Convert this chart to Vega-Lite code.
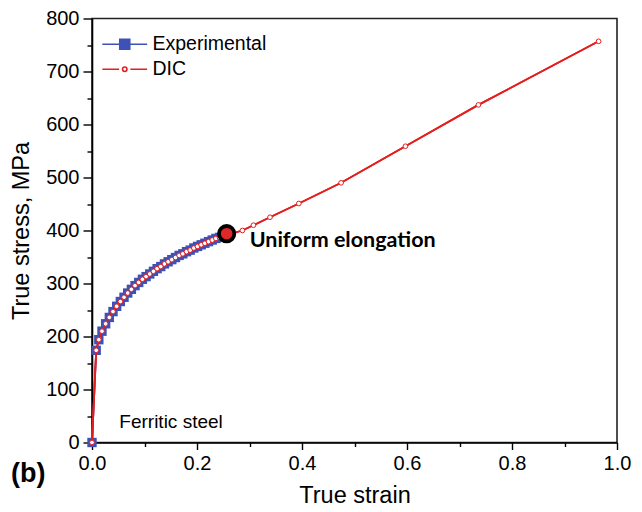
{
  "$schema": "https://vega.github.io/schema/vega-lite/v6.json",
  "width": 525,
  "height": 424,
  "autosize": "none",
  "padding": {"left": 92, "top": 18.5, "right": 25, "bottom": 69.5},
  "background": "white",
  "config": {
    "font": "Liberation Sans",
    "view": {"stroke": "#222222", "strokeWidth": 1.6},
    "axis": {"grid": false, "domainColor": "black", "domainWidth": 1.6, "tickColor": "black", "tickWidth": 1.4, "labelColor": "black", "titleColor": "black", "labelFontSize": 20, "titleFontSize": 23.5, "titleFontWeight": "normal", "labelFont": "Liberation Sans", "titleFont": "Liberation Sans", "labelFlush": false, "labelOverlap": false}
  },
  "title": {"text": "(b)", "orient": "bottom", "anchor": "start", "frame": "group", "fontSize": 27, "fontWeight": "bold", "font": "Liberation Sans", "color": "black", "dx": -81, "dy": -50},
  "datasets": {
    "curves": [
      {"series": "Experimental", "strain": 0.0, "stress": 0},
      {"series": "Experimental", "strain": 0.008, "stress": 174},
      {"series": "Experimental", "strain": 0.013, "stress": 194},
      {"series": "Experimental", "strain": 0.019, "stress": 210},
      {"series": "Experimental", "strain": 0.026, "stress": 224},
      {"series": "Experimental", "strain": 0.033, "stress": 236},
      {"series": "Experimental", "strain": 0.040, "stress": 247},
      {"series": "Experimental", "strain": 0.047, "stress": 257},
      {"series": "Experimental", "strain": 0.054, "stress": 266},
      {"series": "Experimental", "strain": 0.061, "stress": 274},
      {"series": "Experimental", "strain": 0.068, "stress": 282},
      {"series": "Experimental", "strain": 0.075, "stress": 289},
      {"series": "Experimental", "strain": 0.082, "stress": 296},
      {"series": "Experimental", "strain": 0.089, "stress": 302},
      {"series": "Experimental", "strain": 0.096, "stress": 308},
      {"series": "Experimental", "strain": 0.103, "stress": 313},
      {"series": "Experimental", "strain": 0.110, "stress": 318},
      {"series": "Experimental", "strain": 0.117, "stress": 323},
      {"series": "Experimental", "strain": 0.124, "stress": 328},
      {"series": "Experimental", "strain": 0.131, "stress": 332},
      {"series": "Experimental", "strain": 0.138, "stress": 337},
      {"series": "Experimental", "strain": 0.145, "stress": 341},
      {"series": "Experimental", "strain": 0.152, "stress": 345},
      {"series": "Experimental", "strain": 0.159, "stress": 349},
      {"series": "Experimental", "strain": 0.166, "stress": 353},
      {"series": "Experimental", "strain": 0.173, "stress": 356},
      {"series": "Experimental", "strain": 0.180, "stress": 360},
      {"series": "Experimental", "strain": 0.187, "stress": 363},
      {"series": "Experimental", "strain": 0.194, "stress": 367},
      {"series": "Experimental", "strain": 0.201, "stress": 370},
      {"series": "Experimental", "strain": 0.208, "stress": 373},
      {"series": "Experimental", "strain": 0.215, "stress": 376},
      {"series": "Experimental", "strain": 0.222, "stress": 379},
      {"series": "Experimental", "strain": 0.229, "stress": 382},
      {"series": "Experimental", "strain": 0.236, "stress": 385},
      {"series": "Experimental", "strain": 0.243, "stress": 387},
      {"series": "Experimental", "strain": 0.250, "stress": 390},
      {"series": "DIC", "strain": 0.0, "stress": 0},
      {"series": "DIC", "strain": 0.008, "stress": 174},
      {"series": "DIC", "strain": 0.013, "stress": 194},
      {"series": "DIC", "strain": 0.019, "stress": 210},
      {"series": "DIC", "strain": 0.026, "stress": 224},
      {"series": "DIC", "strain": 0.033, "stress": 236},
      {"series": "DIC", "strain": 0.040, "stress": 247},
      {"series": "DIC", "strain": 0.047, "stress": 257},
      {"series": "DIC", "strain": 0.054, "stress": 266},
      {"series": "DIC", "strain": 0.061, "stress": 274},
      {"series": "DIC", "strain": 0.068, "stress": 282},
      {"series": "DIC", "strain": 0.075, "stress": 289},
      {"series": "DIC", "strain": 0.082, "stress": 296},
      {"series": "DIC", "strain": 0.089, "stress": 302},
      {"series": "DIC", "strain": 0.096, "stress": 308},
      {"series": "DIC", "strain": 0.103, "stress": 313},
      {"series": "DIC", "strain": 0.110, "stress": 318},
      {"series": "DIC", "strain": 0.117, "stress": 323},
      {"series": "DIC", "strain": 0.124, "stress": 328},
      {"series": "DIC", "strain": 0.131, "stress": 332},
      {"series": "DIC", "strain": 0.138, "stress": 337},
      {"series": "DIC", "strain": 0.145, "stress": 341},
      {"series": "DIC", "strain": 0.152, "stress": 345},
      {"series": "DIC", "strain": 0.159, "stress": 349},
      {"series": "DIC", "strain": 0.166, "stress": 353},
      {"series": "DIC", "strain": 0.173, "stress": 356},
      {"series": "DIC", "strain": 0.180, "stress": 360},
      {"series": "DIC", "strain": 0.187, "stress": 363},
      {"series": "DIC", "strain": 0.194, "stress": 367},
      {"series": "DIC", "strain": 0.201, "stress": 370},
      {"series": "DIC", "strain": 0.208, "stress": 373},
      {"series": "DIC", "strain": 0.215, "stress": 376},
      {"series": "DIC", "strain": 0.222, "stress": 379},
      {"series": "DIC", "strain": 0.229, "stress": 382},
      {"series": "DIC", "strain": 0.236, "stress": 385},
      {"series": "DIC", "strain": 0.243, "stress": 387},
      {"series": "DIC", "strain": 0.250, "stress": 390},
      {"series": "DIC", "strain": 0.2865, "stress": 400},
      {"series": "DIC", "strain": 0.3075, "stress": 410},
      {"series": "DIC", "strain": 0.339, "stress": 425},
      {"series": "DIC", "strain": 0.394, "stress": 451},
      {"series": "DIC", "strain": 0.4745, "stress": 490},
      {"series": "DIC", "strain": 0.597, "stress": 559},
      {"series": "DIC", "strain": 0.736, "stress": 637},
      {"series": "DIC", "strain": 0.965, "stress": 757}
    ],
    "uniform": [{"strain": 0.2565, "stress": 394, "label": "Uniform elongation"}],
    "material": [{"strain": 0.052, "stress": 39, "label": "Ferritic steel"}]
  },
  "resolve": {"axis": {"x": "independent", "y": "independent"}},
  "layer": [
    {
      "data": {"name": "curves"},
      "mark": {"type": "line", "strokeWidth": 1.8},
      "encoding": {
        "x": {"field": "strain", "type": "quantitative", "scale": {"domain": [0, 1], "nice": false, "zero": false},
              "axis": {"values": [0, 0.2, 0.4, 0.6, 0.8, 1.0], "format": ".1f", "tickSize": 7, "labelPadding": 4, "title": "True strain", "titlePadding": 10, "orient": "bottom"}},
        "y": {"field": "stress", "type": "quantitative", "scale": {"domain": [0, 800], "nice": false, "zero": false},
              "axis": {"values": [0, 100, 200, 300, 400, 500, 600, 700, 800], "tickSize": 9, "labelPadding": 4, "title": "True stress, MPa", "titlePadding": 12, "orient": "left"}},
        "color": {"field": "series", "type": "nominal",
                  "scale": {"domain": ["Experimental", "DIC"], "range": ["#3f51b5", "#e41f1f"]},
                  "legend": {"orient": "none", "legendX": 23, "legendY": 16, "title": null, "padding": 0,
                             "labelFontSize": 19.5, "labelFont": "Liberation Sans", "labelColor": "black", "labelOffset": 18,
                             "symbolSize": 64, "rowPadding": 4,
                             "encode": {"symbols": {"update": {
                               "shape": {"signal": "datum.value === 'Experimental' ? 'M-5.6,0H-1.25M1.25,0H5.6M-1.25,-1.25H1.25V1.25H-1.25Z' : 'M-5.6,0H-1.4M1.4,0H5.6M-0.55,0A0.55,0.55,0,1,0,0.55,0A0.55,0.55,0,1,0,-0.55,0Z'"},
                               "fill": {"signal": "datum.value === 'Experimental' ? '#3f51b5' : '#ffffff'"},
                               "stroke": {"signal": "datum.value === 'Experimental' ? '#3f51b5' : '#e41f1f'"},
                               "strokeWidth": {"value": 1.6},
                               "opacity": {"value": 1}
                             }}}}},
        "order": {"field": "strain", "type": "quantitative"}
      }
    },
    {
      "data": {"name": "curves"},
      "transform": [{"filter": "datum.series === 'Experimental'"}],
      "mark": {"type": "point", "shape": "square", "filled": true, "size": 88, "color": "#3f51b5", "opacity": 1},
      "encoding": {
        "x": {"field": "strain", "type": "quantitative", "axis": null},
        "y": {"field": "stress", "type": "quantitative", "axis": null}
      }
    },
    {
      "data": {"name": "curves"},
      "transform": [{"filter": "datum.series === 'DIC'"}],
      "mark": {"type": "line", "strokeWidth": 1.8, "color": "#e41f1f"},
      "encoding": {
        "x": {"field": "strain", "type": "quantitative", "axis": null},
        "y": {"field": "stress", "type": "quantitative", "axis": null}
      }
    },
    {
      "data": {"name": "curves"},
      "transform": [{"filter": "datum.series === 'DIC'"}],
      "mark": {"type": "point", "shape": "circle", "filled": false, "size": 22, "stroke": "#e41f1f", "fill": "white", "fillOpacity": 1, "strokeWidth": 1, "opacity": 1},
      "encoding": {
        "x": {"field": "strain", "type": "quantitative", "axis": null},
        "y": {"field": "stress", "type": "quantitative", "axis": null}
      }
    },
    {
      "data": {"name": "uniform"},
      "mark": {"type": "point", "shape": "circle", "filled": true, "size": 235, "fill": "#e02828", "stroke": "black", "strokeWidth": 3.8, "opacity": 1},
      "encoding": {
        "x": {"field": "strain", "type": "quantitative",
              "axis": {"values": [0.1, 0.3, 0.5, 0.7, 0.9], "labels": false, "tickSize": 4, "domain": false, "title": null, "orient": "bottom"}},
        "y": {"field": "stress", "type": "quantitative",
              "axis": {"values": [50, 150, 250, 350, 450, 550, 650, 750], "labels": false, "tickSize": 5, "domain": false, "title": null, "orient": "left"}}
      }
    },
    {
      "data": {"name": "uniform"},
      "mark": {"type": "text", "align": "left", "baseline": "middle", "font": "Lato", "fontWeight": "bold", "fontSize": 21.5, "dx": 23, "dy": 7, "color": "black"},
      "encoding": {
        "x": {"field": "strain", "type": "quantitative", "axis": null},
        "y": {"field": "stress", "type": "quantitative", "axis": null},
        "text": {"field": "label"}
      }
    },
    {
      "data": {"name": "material"},
      "mark": {"type": "text", "align": "left", "baseline": "middle", "font": "Liberation Sans", "fontSize": 19, "color": "black"},
      "encoding": {
        "x": {"field": "strain", "type": "quantitative", "axis": null},
        "y": {"field": "stress", "type": "quantitative", "axis": null},
        "text": {"field": "label"}
      }
    }
  ]
}
